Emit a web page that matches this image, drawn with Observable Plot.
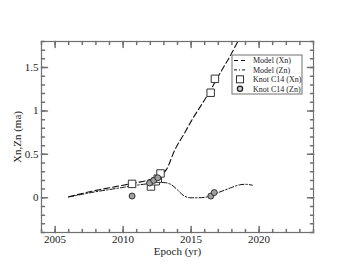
<!DOCTYPE html>
<html><head><meta charset="utf-8">
<script src="https://cdn.jsdelivr.net/npm/d3@7"></script>
<script src="https://cdn.jsdelivr.net/npm/@observablehq/plot@0.6"></script>
<style>body{margin:0;background:#fff}#c{position:relative}#c svg text{font-family:'Liberation Serif','Times New Roman',serif !important}</style>
</head><body><div id="c"></div>
<script>
const modelXnYear = [2006, 2007, 2008, 2009, 2010, 2011, 2012, 2012.8, 2013.2, 2013.8, 2014.5, 2015, 2016, 2016.5, 2017, 2018, 2018.5];
const modelXnVal  = [0.01, 0.05, 0.085, 0.115, 0.145, 0.175, 0.21, 0.26, 0.33, 0.55, 0.74, 0.88, 1.13, 1.26, 1.40, 1.67, 1.82];
const modelZnYear = [2006, 2007, 2008, 2009, 2010, 2011, 2012, 2012.5, 2013, 2013.5, 2014, 2014.5, 2015, 2015.5, 2016, 2016.5, 2017, 2017.5, 2018, 2018.6, 2019, 2019.5];
const modelZnVal  = [0.01, 0.04, 0.07, 0.095, 0.12, 0.145, 0.165, 0.175, 0.175, 0.155, 0.09, 0.02, 0.0, 0.0, 0.005, 0.025, 0.06, 0.09, 0.12, 0.15, 0.155, 0.145];
const knotXnYear = [2010.66, 2012.05, 2012.4, 2012.55, 2012.75, 2016.44, 2016.75];
const knotXnVal  = [0.16, 0.13, 0.19, 0.22, 0.28, 1.21, 1.37];
const knotZnYear = [2010.66, 2011.95, 2012.25, 2012.55, 2016.45, 2016.7];
const knotZnVal  = [0.02, 0.17, 0.20, 0.23, 0.02, 0.06];
const xMajor = [2005, 2010, 2015, 2020];
const xMinor = d3.range(2004, 2025, 1);
const yMajor = [0, 0.5, 1, 1.5];
const yMinor = d3.range(-4, 19, 1).map(v => v / 10);
const legendLabels = ["Model (Xn)", "Model (Zn)", "Knot C14 (Xn)", "Knot C14 (Zn)"];

const mx = modelXnYear.map((x, i) => ({x, y: modelXnVal[i]}));
const mz = modelZnYear.map((x, i) => ({x, y: modelZnVal[i]}));
const kx = knotXnYear.map((x, i) => ({x, y: knotXnVal[i]}));
const kz = knotZnYear.map((x, i) => ({x, y: knotZnVal[i]}));

const font = "'Liberation Serif', 'Times New Roman', serif";
const tickShape = {draw(ctx, l) { ctx.moveTo(0, 0); ctx.lineTo(0, -l); }};
const frameColor = "#707070";
const yLo = -0.4, yHi = 1.8, xLo = 2004, xHi = 2024;

function ticks(vals, axis, len) {
  if (axis === "x") return [
    Plot.vector(vals, {x: d => d, y: yLo, length: len, rotate: 0, anchor: "start", shape: tickShape, stroke: frameColor}),
    Plot.vector(vals, {x: d => d, y: yHi, length: len, rotate: 180, anchor: "start", shape: tickShape, stroke: frameColor})
  ];
  return [
    Plot.vector(vals, {y: d => d, x: xLo, length: len, rotate: 90, anchor: "start", shape: tickShape, stroke: frameColor}),
    Plot.vector(vals, {y: d => d, x: xHi, length: len, rotate: 270, anchor: "start", shape: tickShape, stroke: frameColor})
  ];
}

const chart = Plot.plot({
  width: 353, height: 273,
  marginLeft: 41, marginRight: 40, marginTop: 41, marginBottom: 41,
  style: {fontFamily: font, fontSize: "11px", color: "#222", background: "#fff"},
  x: {domain: [xLo, xHi]},
  y: {domain: [yLo, yHi]},
  marks: [
    Plot.axisX({ticks: xMajor, tickSize: 0, tickPadding: 3, tickFormat: d3.format("d"), label: "Epoch (yr)", labelAnchor: "center", labelArrow: "none", labelOffset: 22, fontSize: 11, fontFamily: font}),
    Plot.axisY({ticks: yMajor, tickSize: 0, tickPadding: 3, tickFormat: d => String(d), label: "Xn,Zn (ma)", labelAnchor: "center", labelArrow: "none", labelOffset: 28, fontSize: 11, fontFamily: font}),
    ...ticks(xMinor, "x", 3),
    ...ticks(xMajor, "x", 6),
    ...ticks(yMinor, "y", 3),
    ...ticks(yMajor, "y", 6),
    Plot.line(mx, {x: "x", y: "y", stroke: "#111", strokeWidth: 1.1, strokeDasharray: "6,3", clip: true, curve: "monotone-x"}),
    Plot.line(mz, {x: "x", y: "y", stroke: "#111", strokeWidth: 1, strokeDasharray: "5,2,1.5,2", clip: true, curve: "monotone-x"}),
    Plot.dot(kx, {x: "x", y: "y", symbol: "square", r: 4.2, fill: "#fff", stroke: "#333", strokeWidth: 1}),
    Plot.dot(kz, {x: "x", y: "y", symbol: "circle", r: 3, fill: "#a0a0a0", stroke: "#333", strokeWidth: 1}),
    Plot.frame({stroke: frameColor, strokeWidth: 1.2})
  ]
});
document.getElementById("c").appendChild(chart);

// Legend inside the plot frame
const svg = d3.select(chart);
svg.selectAll("text").attr("font-family", font);
const lg = svg.append("g").attr("transform", "translate(232,55)").attr("text-anchor", "start");
lg.append("rect").attr("width", 70).attr("height", 39).attr("fill", "#fff").attr("stroke", frameColor).attr("stroke-width", 1);
legendLabels.forEach((t, i) => {
  const cy = 5.5 + i * 9.4;
  if (i === 0) lg.append("line").attr("x1", 2).attr("x2", 15).attr("y1", cy).attr("y2", cy).attr("stroke", "#111").attr("stroke-width", 1.2).attr("stroke-dasharray", "4,3");
  if (i === 1) lg.append("line").attr("x1", 2).attr("x2", 15).attr("y1", cy).attr("y2", cy).attr("stroke", "#111").attr("stroke-width", 1).attr("stroke-dasharray", "3,2,1,2");
  if (i === 2) lg.append("rect").attr("x", 4.5).attr("y", cy - 3.5).attr("width", 7).attr("height", 7).attr("fill", "#fff").attr("stroke", "#333");
  if (i === 3) lg.append("circle").attr("cx", 8).attr("cy", cy).attr("r", 2.6).attr("fill", "#ccc").attr("stroke", "#222").attr("stroke-width", 1.3);
  lg.append("text").attr("x", 21).attr("y", cy).attr("dy", "0.35em").attr("text-anchor", "start").attr("font-size", 8).attr("font-family", font).attr("fill", "#222").text(t);
});
</script>
</body></html>
